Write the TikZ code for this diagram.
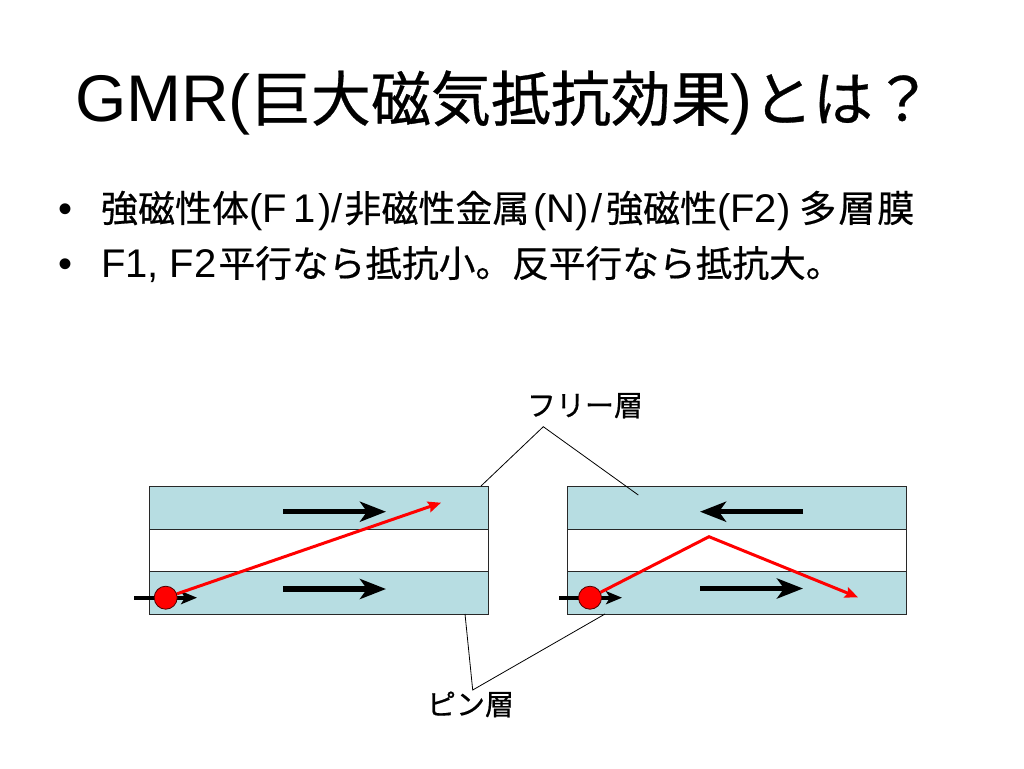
\documentclass[tikz,border=0pt]{standalone}
\usepackage{fontspec}
\setmainfont{Liberation Sans}
\newfontfamily\lat{Liberation Sans}
\newfontfamily\cjk[FakeBold=0.5]{Noto Sans CJK JP}
\usetikzlibrary{arrows.meta}
\definecolor{layerblue}{RGB}{183,221,226}
\definecolor{edgegray}{RGB}{40,40,40}
\newcommand\Lt[2]{{\fontsize{#1}{#1}\selectfont\lat #2}}
\newcommand\Cj[2]{{\fontsize{#1}{#1}\selectfont\cjk #2}}
\begin{document}
\begin{tikzpicture}[x=1pt,y=-1pt,
  txt/.style={inner sep=0pt, outer sep=0pt, anchor=base west},
  fm/.style={draw=edgegray, line width=1pt, fill=layerblue, minimum width=339pt, minimum height=42.7pt, inner sep=0pt, anchor=north west},
  nm/.style={fm, fill=white},
  magarrow/.style={line width=5.5pt, -{Stealth[length=26pt, width=20pt, inset=7pt]}},
  smallarrow/.style={line width=4pt, -{Stealth[length=16pt, width=13pt, inset=4pt]}},
  electron/.style={circle, fill=red, draw=black!70!red, line width=0.8pt, minimum size=23pt, inner sep=0pt},
  path/.style={red, line width=3pt, -{Stealth[length=13pt, width=11pt, inset=2pt]}},
  callout/.style={black, line width=0.8pt}
]
\useasboundingbox (0,0) rectangle (1024,768);
\fill[white] (0,0) rectangle (1024,768);

% title
\node[txt] (title) at (75,121) {\Lt{66}{GMR(}\Cj{60}{巨大磁気抵抗効果}\Lt{66}{)}\Cj{60}{とは？}};

% bullets
\node[inner sep=0pt, anchor=base] (d1) at (66,222) {\Lt{40}{•}};
\node[txt] (b1) at (101,222) {\Cj{37}{強磁性体}\Lt{40}{(F\kern7pt 1\kern2pt)/}\kern2pt\Cj{37}{非磁性金属}\kern4pt\Lt{40}{(N)\kern3pt/}\kern3pt\Cj{37}{強磁性}\Lt{40}{(F2)}\kern9pt\Cj{37}{多\kern2pt層\kern2pt膜}};
\node[inner sep=0pt, anchor=base] (d2) at (66,277) {\Lt{40}{•}};
\node[txt] (b2) at (101,277) {\Lt{40}{F1, F2}\kern2pt\Cj{36.7}{平行なら抵抗小。反平行なら抵抗大。}};

% left stack
\node[fm] (LF) at (149.3,486) {};
\node[nm] (LN) at (149.3,528.7) {};
\node[fm] (LP) at (149.3,571.3) {};
% right stack
\node[fm] (RF) at (566.7,486) {};
\node[nm] (RN) at (566.7,528.7) {};
\node[fm] (RP) at (566.7,571.3) {};

% magnetisation arrows
\coordinate (LFa) at (283,511.7); \coordinate (LFb) at (386,511.7);
\coordinate (LPa) at (283,589);   \coordinate (LPb) at (386,589);
\coordinate (RFa) at (803,511.7); \coordinate (RFb) at (700,511.7);
\coordinate (RPa) at (700,588.5); \coordinate (RPb) at (803,588.5);
\draw[magarrow] (LFa) -- (LFb);
\draw[magarrow] (LPa) -- (LPb);
\draw[magarrow] (RFa) -- (RFb);
\draw[magarrow] (RPa) -- (RPb);

% incoming electrons
\coordinate (Lin) at (134,597.7); \coordinate (Lout) at (197,597.7);
\coordinate (Rin) at (559,597.7); \coordinate (Rout) at (622,597.7);
\draw[smallarrow] (Lin) -- (Lout);
\draw[smallarrow] (Rin) -- (Rout);
\node[electron] (eL) at (165.7,597.7) {};
\node[electron] (eR) at (590,597.7) {};

% electron paths
\coordinate (Lend) at (441,502.7);
\draw[path] (eL) -- (Lend);
\coordinate (Rpeak) at (709,536.7);
\coordinate (Rend) at (858,597.3);
\draw[path] (eR) -- (Rpeak) -- (Rend);

% callouts
\node[txt] (free) at (527,416) {\Cj{29}{フリー層}};
\coordinate (freeApex) at (543.3,426.7);
\coordinate (freeL) at (481,486);
\coordinate (freeR) at (638.3,495);
\draw[callout] (freeL) -- (freeApex) -- (freeR);

\node[txt] (pin) at (427,715) {\Cj{29}{ピン層}};
\coordinate (pinApex) at (472.7,690);
\coordinate (pinL) at (465,614);
\coordinate (pinR) at (605,614);
\draw[callout] (pinL) -- (pinApex) -- (pinR);
\end{tikzpicture}
\end{document}
